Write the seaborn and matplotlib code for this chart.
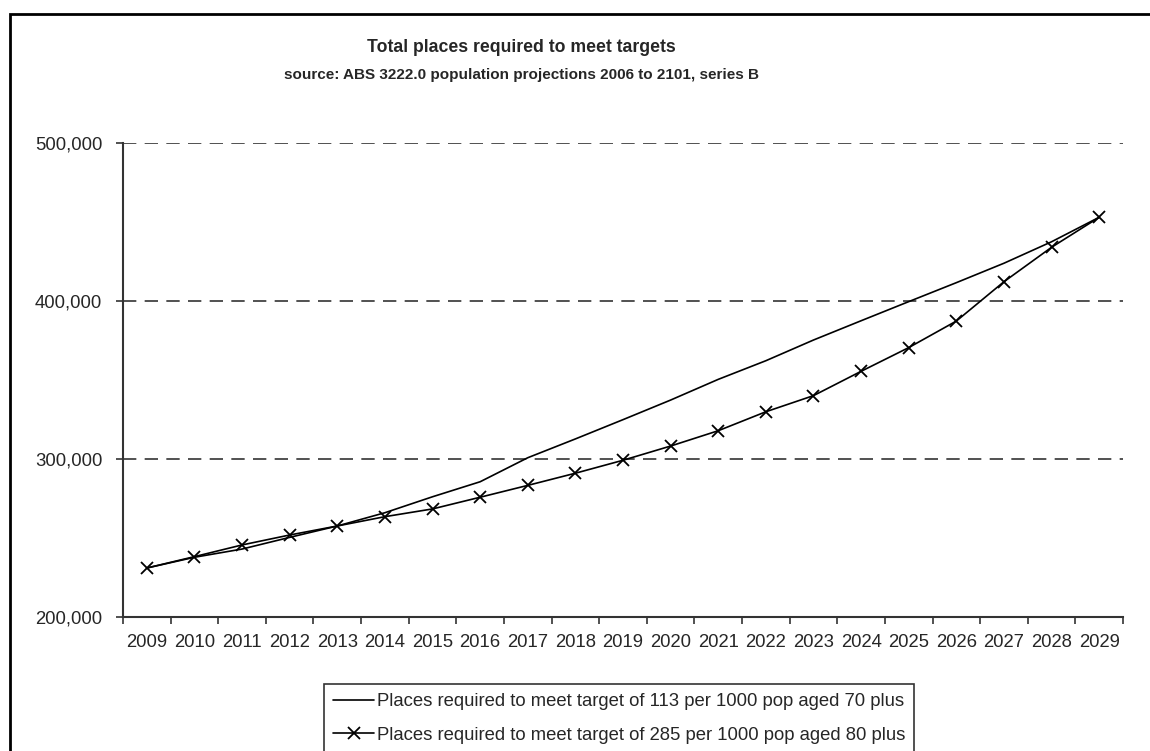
import seaborn as sns
import numpy as np
import pandas as pd
import matplotlib.pyplot as plt
from matplotlib.patches import Rectangle
from matplotlib.ticker import FuncFormatter

years = [str(y) for y in range(2009, 2030)]
places_70 = [231000, 237800, 243000, 250400, 257600, 266000, 276100, 285600, 300800, 312700,
             324900, 337300, 350400, 362200, 375300, 387500, 399600, 411600, 423900, 437500, 453000]
places_80 = [231000, 238200, 245600, 251900, 257600, 263500, 268400, 275800, 283300, 291000,
             299200, 308200, 317900, 329900, 340100, 355500, 370500, 387300, 412200, 434000, 453000]
label_70 = 'Places required to meet target of 113 per 1000 pop aged 70 plus'
label_80 = 'Places required to meet target of 285 per 1000 pop aged 80 plus'

sns.set_style("white")
plt.rcParams['font.family'] = ['Liberation Sans', 'DejaVu Sans']

fig = plt.figure(figsize=(11.5, 7.51), dpi=100)
ax = fig.add_axes([123/1150, 1-617/751, 1000/1150, 474/751])

x = np.arange(len(years))
sns.lineplot(x=x, y=places_70, color='black', linewidth=1.2, label=label_70, ax=ax)
sns.lineplot(x=x, y=places_80, color='black', linewidth=1.2, marker='x', markersize=9,
             markeredgewidth=1.3, markeredgecolor='black', dashes=False, label=label_80, ax=ax)

ax.set_xlim(-0.5, len(years) - 0.5)
ax.set_ylim(200000, 500000)
ax.set_yticks([200000, 300000, 400000, 500000])
ax.yaxis.set_major_formatter(FuncFormatter(lambda v, p: f'{int(v):,}'))
ax.set_xticks(x)
ax.set_xticklabels(years)
ax.set_xticks(np.arange(-0.5, len(years)), minor=True)
ax.tick_params(axis='x', which='major', length=0, labelsize=13.3, pad=12)
ax.tick_params(axis='x', which='minor', length=5, width=1.2, color='#333333', direction='out')
ax.tick_params(axis='y', length=5, width=1.2, color='#333333', direction='out', labelsize=13.3, pad=10)
ax.xaxis.set_ticks_position('bottom')
ax.yaxis.set_ticks_position('left')

for v in [300000, 400000, 500000]:
    ax.axhline(v, color='#333333', linestyle=(0, (8, 5)), linewidth=1.2, zorder=0)

sns.despine(ax=ax, top=True, right=True)
for s in ['left', 'bottom']:
    ax.spines[s].set_color('#333333')
    ax.spines[s].set_linewidth(1.5)

fig.text(521/1150, 1-47/751, 'Total places required to meet targets', ha='center', va='center',
         fontsize=12.7, fontweight='bold')
fig.text(521/1150, 1-75/751, 'source: ABS 3222.0 population projections 2006 to 2101, series B',
         ha='center', va='center', fontsize=11, fontweight='bold')

leg = ax.legend(loc='upper left', bbox_to_anchor=(324/1150, 1-684/751), bbox_transform=fig.transFigure,
                frameon=True, fancybox=False, edgecolor='black', fontsize=13.3, borderpad=0.5,
                handlelength=2.2, handletextpad=0.15, labelspacing=0.9, borderaxespad=0)
leg.get_frame().set_linewidth(1.2)

fig.patches.append(Rectangle((10/1150, -0.5), 2.0, 1.5 - 14/751, transform=fig.transFigure,
                             fill=False, edgecolor='black', linewidth=2, figure=fig))

fig.savefig('out.png', dpi=100)
